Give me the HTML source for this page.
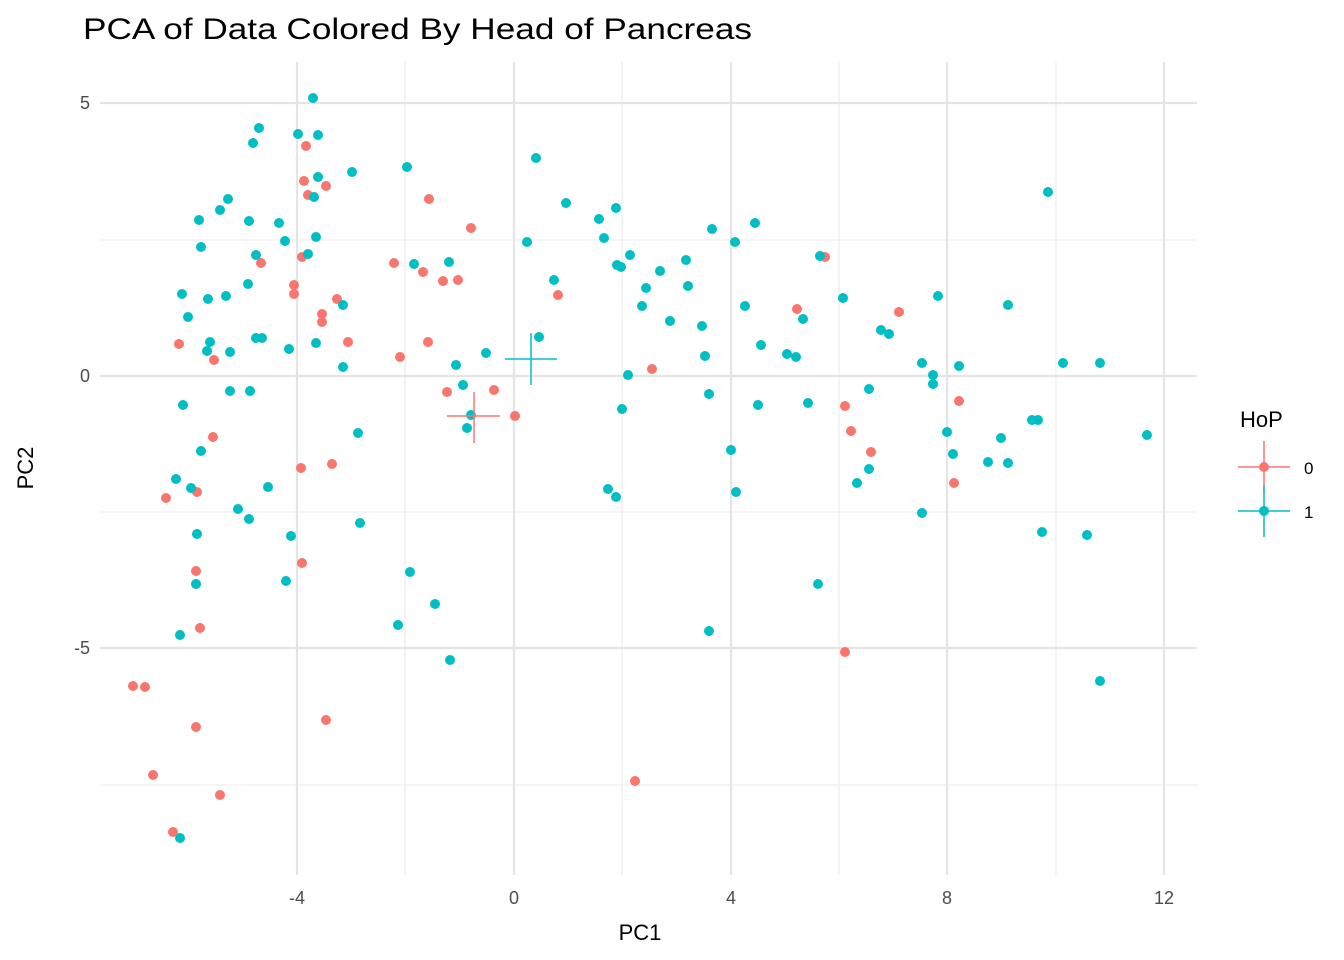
<!DOCTYPE html>
<html><head><meta charset="utf-8"><style>body{margin:0;background:#fff}svg{display:block}text{font-family:"Liberation Sans",Arial,sans-serif}</style></head><body>
<svg width="1344" height="960" xmlns="http://www.w3.org/2000/svg">
<g stroke="#ebebeb" stroke-width="1.1">
<line x1="100" x2="1197" y1="240" y2="240"/><line x1="100" x2="1197" y1="512" y2="512"/><line x1="100" x2="1197" y1="785" y2="785"/>
<line x1="405" x2="405" y1="62" y2="875"/><line x1="622" x2="622" y1="62" y2="875"/><line x1="839" x2="839" y1="62" y2="875"/><line x1="1056" x2="1056" y1="62" y2="875"/>
</g>
<g stroke="#e5e5e5" stroke-width="2.2">
<line x1="100" x2="1197" y1="103" y2="103"/><line x1="100" x2="1197" y1="376" y2="376"/><line x1="100" x2="1197" y1="648" y2="648"/>
<line x1="297" x2="297" y1="62" y2="875"/><line x1="514" x2="514" y1="62" y2="875"/><line x1="731" x2="731" y1="62" y2="875"/><line x1="947" x2="947" y1="62" y2="875"/><line x1="1164" x2="1164" y1="62" y2="875"/>
</g>
<g fill="#4d4d4d" font-size="18">
<text x="90" y="109" text-anchor="end">5</text><text x="90" y="382" text-anchor="end">0</text><text x="90" y="654" text-anchor="end">-5</text>
<text x="297" y="904" text-anchor="middle">-4</text><text x="514" y="904" text-anchor="middle">0</text><text x="731" y="904" text-anchor="middle">4</text><text x="947" y="904" text-anchor="middle">8</text><text x="1164" y="904" text-anchor="middle">12</text>
</g>
<text x="640" y="940" text-anchor="middle" font-size="22">PC1</text>
<text x="33" y="468" text-anchor="middle" font-size="22" transform="rotate(-90 33 468)">PC2</text>
<text x="83" y="39" font-size="30" textLength="669" lengthAdjust="spacingAndGlyphs">PCA of Data Colored By Head of Pancreas</text>
<g fill="#F8766D">
<circle cx="133" cy="686" r="5"/><circle cx="145" cy="687" r="5"/><circle cx="153" cy="775" r="5"/><circle cx="166" cy="498" r="5"/><circle cx="173" cy="832" r="5"/><circle cx="179" cy="344" r="5"/><circle cx="196" cy="571" r="5"/><circle cx="196" cy="727" r="5"/><circle cx="197" cy="492" r="5"/><circle cx="200" cy="628" r="5"/><circle cx="213" cy="437" r="5"/><circle cx="214" cy="360" r="5"/><circle cx="220" cy="795" r="5"/><circle cx="261" cy="263" r="5"/><circle cx="294" cy="294" r="5"/><circle cx="294" cy="285" r="5"/><circle cx="301" cy="468" r="5"/><circle cx="302" cy="563" r="5"/><circle cx="306" cy="146" r="5"/><circle cx="304" cy="181" r="5"/><circle cx="302" cy="257" r="5"/><circle cx="308" cy="195" r="5"/><circle cx="322" cy="322" r="5"/><circle cx="322" cy="314" r="5"/><circle cx="326" cy="186" r="5"/><circle cx="326" cy="720" r="5"/><circle cx="332" cy="464" r="5"/><circle cx="337" cy="299" r="5"/><circle cx="348" cy="342" r="5"/><circle cx="394" cy="263" r="5"/><circle cx="400" cy="357" r="5"/><circle cx="423" cy="272" r="5"/><circle cx="428" cy="342" r="5"/><circle cx="429" cy="199" r="5"/><circle cx="443" cy="281" r="5"/><circle cx="447" cy="392" r="5"/><circle cx="458" cy="280" r="5"/><circle cx="471" cy="228" r="5"/><circle cx="494" cy="390" r="5"/><circle cx="515" cy="416" r="5"/><circle cx="558" cy="295" r="5"/><circle cx="635" cy="781" r="5"/><circle cx="652" cy="369" r="5"/><circle cx="797" cy="309" r="5"/><circle cx="825" cy="257" r="5"/><circle cx="845" cy="406" r="5"/><circle cx="845" cy="652" r="5"/><circle cx="851" cy="431" r="5"/><circle cx="871" cy="452" r="5"/><circle cx="899" cy="312" r="5"/><circle cx="954" cy="483" r="5"/><circle cx="959" cy="401" r="5"/>
</g>
<g fill="#00BFC4">
<circle cx="313" cy="98" r="5"/><circle cx="259" cy="128" r="5"/><circle cx="253" cy="143" r="5"/><circle cx="298" cy="134" r="5"/><circle cx="318" cy="135" r="5"/><circle cx="352" cy="172" r="5"/><circle cx="318" cy="177" r="5"/><circle cx="314" cy="197" r="5"/><circle cx="228" cy="199" r="5"/><circle cx="199" cy="220" r="5"/><circle cx="220" cy="210" r="5"/><circle cx="249" cy="221" r="5"/><circle cx="279" cy="223" r="5"/><circle cx="201" cy="247" r="5"/><circle cx="256" cy="255" r="5"/><circle cx="285" cy="241" r="5"/><circle cx="316" cy="237" r="5"/><circle cx="308" cy="254" r="5"/><circle cx="407" cy="167" r="5"/><circle cx="414" cy="264" r="5"/><circle cx="449" cy="262" r="5"/><circle cx="248" cy="284" r="5"/><circle cx="182" cy="294" r="5"/><circle cx="188" cy="317" r="5"/><circle cx="208" cy="299" r="5"/><circle cx="226" cy="296" r="5"/><circle cx="210" cy="342" r="5"/><circle cx="207" cy="351" r="5"/><circle cx="230" cy="352" r="5"/><circle cx="256" cy="338" r="5"/><circle cx="262" cy="338" r="5"/><circle cx="289" cy="349" r="5"/><circle cx="316" cy="343" r="5"/><circle cx="343" cy="305" r="5"/><circle cx="343" cy="367" r="5"/><circle cx="230" cy="391" r="5"/><circle cx="250" cy="391" r="5"/><circle cx="183" cy="405" r="5"/><circle cx="358" cy="433" r="5"/><circle cx="201" cy="451" r="5"/><circle cx="176" cy="479" r="5"/><circle cx="191" cy="488" r="5"/><circle cx="268" cy="487" r="5"/><circle cx="238" cy="509" r="5"/><circle cx="249" cy="519" r="5"/><circle cx="197" cy="534" r="5"/><circle cx="291" cy="536" r="5"/><circle cx="360" cy="523" r="5"/><circle cx="196" cy="584" r="5"/><circle cx="286" cy="581" r="5"/><circle cx="410" cy="572" r="5"/><circle cx="435" cy="604" r="5"/><circle cx="398" cy="625" r="5"/><circle cx="450" cy="660" r="5"/><circle cx="180" cy="635" r="5"/><circle cx="180" cy="838" r="5"/><circle cx="456" cy="365" r="5"/><circle cx="486" cy="353" r="5"/><circle cx="463" cy="385" r="5"/><circle cx="471" cy="415" r="5"/><circle cx="467" cy="428" r="5"/><circle cx="536" cy="158" r="5"/><circle cx="527" cy="242" r="5"/><circle cx="554" cy="280" r="5"/><circle cx="566" cy="203" r="5"/><circle cx="539" cy="337" r="5"/><circle cx="599" cy="219" r="5"/><circle cx="604" cy="238" r="5"/><circle cx="616" cy="208" r="5"/><circle cx="617" cy="265" r="5"/><circle cx="621" cy="267" r="5"/><circle cx="630" cy="255" r="5"/><circle cx="628" cy="375" r="5"/><circle cx="622" cy="409" r="5"/><circle cx="608" cy="489" r="5"/><circle cx="616" cy="497" r="5"/><circle cx="642" cy="306" r="5"/><circle cx="646" cy="288" r="5"/><circle cx="660" cy="271" r="5"/><circle cx="670" cy="321" r="5"/><circle cx="686" cy="260" r="5"/><circle cx="688" cy="286" r="5"/><circle cx="702" cy="326" r="5"/><circle cx="705" cy="356" r="5"/><circle cx="709" cy="394" r="5"/><circle cx="712" cy="229" r="5"/><circle cx="735" cy="242" r="5"/><circle cx="755" cy="223" r="5"/><circle cx="745" cy="306" r="5"/><circle cx="761" cy="345" r="5"/><circle cx="758" cy="405" r="5"/><circle cx="731" cy="450" r="5"/><circle cx="736" cy="492" r="5"/><circle cx="709" cy="631" r="5"/><circle cx="787" cy="354" r="5"/><circle cx="796" cy="357" r="5"/><circle cx="803" cy="319" r="5"/><circle cx="808" cy="403" r="5"/><circle cx="818" cy="584" r="5"/><circle cx="820" cy="256" r="5"/><circle cx="843" cy="298" r="5"/><circle cx="869" cy="389" r="5"/><circle cx="869" cy="469" r="5"/><circle cx="857" cy="483" r="5"/><circle cx="881" cy="330" r="5"/><circle cx="889" cy="334" r="5"/><circle cx="922" cy="363" r="5"/><circle cx="922" cy="513" r="5"/><circle cx="933" cy="375" r="5"/><circle cx="933" cy="384" r="5"/><circle cx="938" cy="296" r="5"/><circle cx="947" cy="432" r="5"/><circle cx="953" cy="454" r="5"/><circle cx="959" cy="366" r="5"/><circle cx="988" cy="462" r="5"/><circle cx="1001" cy="438" r="5"/><circle cx="1008" cy="305" r="5"/><circle cx="1008" cy="463" r="5"/><circle cx="1032" cy="420" r="5"/><circle cx="1038" cy="420" r="5"/><circle cx="1042" cy="532" r="5"/><circle cx="1048" cy="192" r="5"/><circle cx="1063" cy="363" r="5"/><circle cx="1087" cy="535" r="5"/><circle cx="1100" cy="363" r="5"/><circle cx="1100" cy="681" r="5"/><circle cx="1147" cy="435" r="5"/>
</g>
<g stroke-width="1.5">
<line x1="447" x2="500" y1="416" y2="416" stroke="#F8766D"/><line x1="474" x2="474" y1="392" y2="443" stroke="#F8766D"/>
<line x1="505" x2="557" y1="359" y2="359" stroke="#00BFC4"/><line x1="531" x2="531" y1="333" y2="385" stroke="#00BFC4"/>
</g>
<text x="1240" y="427" font-size="22">HoP</text>
<g stroke-width="1.5">
<line x1="1238" x2="1290" y1="467" y2="467" stroke="#F8766D"/><line x1="1264" x2="1264" y1="441" y2="493" stroke="#F8766D"/>
<line x1="1238" x2="1290" y1="511" y2="511" stroke="#00BFC4"/><line x1="1264" x2="1264" y1="485" y2="537" stroke="#00BFC4"/>
</g>
<circle cx="1264" cy="467" r="5" fill="#F8766D"/><circle cx="1264" cy="511" r="5" fill="#00BFC4"/>
<text x="1304" y="474" font-size="17">0</text><text x="1304" y="518" font-size="17">1</text>
</svg>
</body></html>
